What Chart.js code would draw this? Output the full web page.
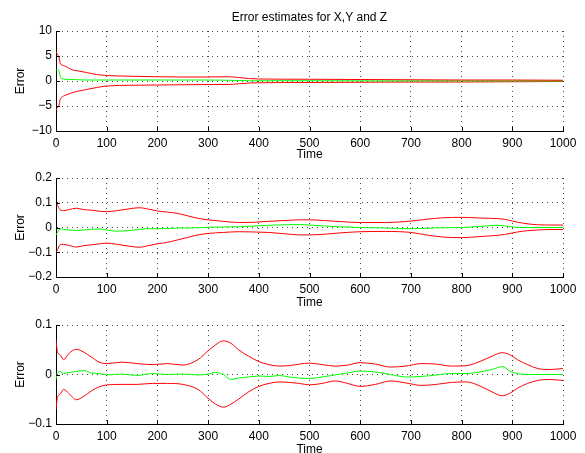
<!DOCTYPE html>
<html>
<head>
<meta charset="utf-8">
<script src="https://cdn.jsdelivr.net/npm/chart.js@4/dist/chart.umd.min.js"></script>
<style>
  html, body { margin: 0; padding: 0; background: #fff; overflow: hidden; width: 585px; height: 453px; }
  #wrap { position: relative; width: 585px; height: 453px; }
  canvas { position: absolute; left: 0; }
</style>
</head>
<body>
<div id="wrap">
  <canvas id="c1" width="585" height="170" style="top:0px"></canvas>
  <canvas id="c2" width="585" height="170" style="top:160px"></canvas>
  <canvas id="c3" width="585" height="150" style="top:310px"></canvas>
</div>
<script>
// ---------- Data ----------
const chartTitle = 'Error estimates for X,Y and Z';
const xAxisTitle = 'Time';
const yAxisTitle = 'Error';

const timeTicks = [0, 100, 200, 300, 400, 500, 600, 700, 800, 900, 1000];
const timeTickLabels = ['0', '100', '200', '300', '400', '500', '600', '700', '800', '900', '1000'];

const xErrTicks = [-10, -5, 0, 5, 10];
const xErrTickLabels = ['\u221210', '\u22125', '0', '5', '10'];
const yErrTicks = [-0.2, -0.1, 0, 0.1, 0.2];
const yErrTickLabels = ['\u22120.2', '\u22120.1', '0', '0.1', '0.2'];
const zErrTicks = [-0.1, 0, 0.1];
const zErrTickLabels = ['\u22120.1', '0', '0.1'];

// X estimate
const tX = [0, 3, 6, 8, 10, 15, 20, 30, 45, 60, 80, 100, 150, 200, 250, 300, 340, 360, 380, 400, 500, 600, 700, 800, 900, 1000];
const xUpper = [5.9, 5.3, 4.8, 3.6, 3.3, 3.1, 2.9, 2.3, 2.0, 1.7, 1.3, 1.1, 0.95, 0.85, 0.8, 0.8, 0.85, 0.7, 0.5, 0.4, 0.35, 0.3, 0.25, 0.2, 0.2, 0.15];
const xMean  = [2.2, 2.2, 2.1, 1.0, 0.5, 0.4, 0.35, 0.3, 0.25, 0.2, 0.2, 0.2, 0.2, 0.2, 0.2, 0.2, 0.15, 0.1, 0.05, 0.05, 0.05, 0.03, 0.03, 0.02, 0.02, 0.0];
const xLower = [-5.8, -5.2, -4.8, -3.8, -3.4, -3.0, -2.8, -2.4, -2.0, -1.7, -1.3, -1.0, -0.85, -0.8, -0.75, -0.7, -0.7, -0.55, -0.4, -0.35, -0.3, -0.25, -0.2, -0.2, -0.15, -0.1];

// Y estimate
const tY = [0, 3, 8, 15, 25, 40, 55, 70, 85, 100, 120, 140, 165, 180, 200, 220, 240, 260, 280, 300, 330, 360, 390, 420, 450, 480, 500, 530, 560, 600, 650, 700, 730, 760, 800, 840, 870, 885, 900, 920, 950, 980, 1000];
const yUpper = [0.1, 0.09, 0.072, 0.068, 0.072, 0.078, 0.072, 0.07, 0.066, 0.064, 0.068, 0.074, 0.08, 0.075, 0.067, 0.062, 0.057, 0.047, 0.037, 0.031, 0.025, 0.02, 0.021, 0.025, 0.028, 0.031, 0.031, 0.028, 0.024, 0.02, 0.02, 0.026, 0.033, 0.039, 0.041, 0.038, 0.036, 0.033, 0.026, 0.018, 0.011, 0.01, 0.01];
const yMean  = [-0.03, -0.02, -0.005, -0.008, -0.01, -0.012, -0.01, -0.007, -0.006, -0.01, -0.015, -0.013, -0.008, -0.005, -0.005, -0.004, -0.002, -0.002, -0.001, 0.001, 0.002, 0.003, 0.006, 0.009, 0.011, 0.012, 0.01, 0.006, 0.003, 0.0, -0.002, -0.005, -0.003, -0.001, 0.0, 0.005, 0.009, 0.007, 0.002, 0.0, 0.0, 0.0, 0.0];
const yLower = [-0.1, -0.09, -0.07, -0.068, -0.072, -0.079, -0.073, -0.07, -0.066, -0.063, -0.068, -0.074, -0.08, -0.074, -0.066, -0.06, -0.05, -0.04, -0.03, -0.024, -0.02, -0.017, -0.018, -0.02, -0.025, -0.03, -0.03, -0.027, -0.022, -0.017, -0.016, -0.02, -0.03, -0.038, -0.041, -0.036, -0.032, -0.028, -0.022, -0.015, -0.01, -0.008, -0.008];

// Z estimate
const tZ = [0, 3, 8, 15, 25, 40, 55, 70, 85, 100, 130, 160, 190, 220, 250, 280, 300, 315, 330, 345, 360, 380, 400, 420, 440, 460, 480, 500, 525, 550, 575, 600, 630, 660, 690, 720, 750, 780, 810, 840, 860, 880, 895, 910, 930, 950, 970, 1000];
const zUpper = [0.07, 0.045, 0.04, 0.03, 0.042, 0.051, 0.045, 0.035, 0.025, 0.022, 0.025, 0.022, 0.02, 0.022, 0.019, 0.03, 0.048, 0.06, 0.068, 0.063, 0.05, 0.037, 0.026, 0.02, 0.017, 0.018, 0.021, 0.023, 0.02, 0.017, 0.019, 0.024, 0.021, 0.015, 0.017, 0.022, 0.021, 0.017, 0.018, 0.028, 0.037, 0.044, 0.04, 0.03, 0.02, 0.012, 0.01, 0.012];
const zMean  = [-0.01, 0.004, 0.006, 0.002, 0.004, 0.006, 0.008, 0.003, 0.002, -0.001, 0.001, -0.002, 0.002, 0.0, 0.001, -0.001, 0.001, 0.004, 0.0, -0.01, -0.007, -0.005, -0.003, -0.004, -0.002, -0.005, -0.007, -0.008, -0.005, -0.001, 0.003, 0.007, 0.005, 0.0, -0.005, -0.004, -0.001, 0.002, 0.002, 0.006, 0.01, 0.016, 0.007, 0.002, 0.0, 0.0, 0.0, 0.0];
const zLower = [-0.07, -0.045, -0.04, -0.03, -0.038, -0.051, -0.044, -0.033, -0.025, -0.021, -0.02, -0.02, -0.018, -0.018, -0.02, -0.03, -0.048, -0.06, -0.066, -0.06, -0.05, -0.035, -0.024, -0.018, -0.015, -0.016, -0.018, -0.021, -0.018, -0.013, -0.018, -0.024, -0.02, -0.013, -0.017, -0.022, -0.02, -0.016, -0.015, -0.025, -0.035, -0.043, -0.038, -0.028, -0.018, -0.012, -0.01, -0.012];

// ---------- Chart building ----------
const FONT = 'Liberation Sans, Arial, Helvetica, sans-serif';
const RED = '#ff0000';
const GREEN = '#00ff00';

const inwardTicks = {
  id: 'inwardTicks',
  afterDraw(chart) {
    const ctx = chart.ctx;
    const a = chart.chartArea;
    const xs = chart.scales.x, ys = chart.scales.y;
    ctx.save();
    ctx.strokeStyle = '#000';
    ctx.lineWidth = 1;
    ctx.beginPath();
    xs.ticks.forEach(t => {
      const px = Math.round(xs.getPixelForValue(t.value)) + 0.5;
      ctx.moveTo(px, a.bottom);
      ctx.lineTo(px, a.bottom - 4);
    });
    ys.ticks.forEach(t => {
      const py = Math.round(ys.getPixelForValue(t.value)) + 0.5;
      ctx.moveTo(a.left, py);
      ctx.lineTo(a.left + 4, py);
    });
    ctx.stroke();
    ctx.restore();
  }
};

function pts(t, v) { return t.map((x, i) => ({ x: x, y: v[i] })); }

function makeChart(id, t, upper, mean, lower, yTicks, yLabels, cfg) {
  const ds = (data, color) => ({
    data: pts(t, data), borderColor: color, borderWidth: 1, pointRadius: 0,
    cubicInterpolationMode: 'monotone', fill: false
  });
  return new Chart(document.getElementById(id), {
    type: 'line',
    data: { datasets: [ds(upper, RED), ds(mean, GREEN), ds(lower, RED)] },
    options: {
      responsive: false, animation: false, devicePixelRatio: 1,
      layout: { padding: { top: cfg.padTop, left: 0, right: 22, bottom: 0 } },
      plugins: {
        legend: { display: false }, tooltip: { enabled: false },
        title: cfg.title ? {
          display: true, text: cfg.title, fullSize: false, color: '#000',
          font: { family: FONT, size: 12, weight: 'normal' },
          padding: { top: 10, bottom: 6.6 }
        } : { display: false }
      },
      scales: {
        x: {
          type: 'linear', min: 0, max: 1000,
          afterBuildTicks: s => { s.ticks = timeTicks.map(v => ({ value: v })); },
          afterFit: s => { s.height = cfg.xAxisH; },
          ticks: { color: '#000', font: { family: FONT, size: 12 }, padding: 5, maxRotation: 0, autoSkip: false,
                   callback: (v, i) => timeTickLabels[i] },
          grid: { color: '#444', lineWidth: 1, drawTicks: false },
          border: { display: true, color: '#000', width: 1, dash: [1, 4] },
          title: { display: true, text: xAxisTitle, color: '#000', font: { family: FONT, size: 12 },
                   padding: { top: 0, bottom: cfg.xTitlePad } }
        },
        y: {
          type: 'linear', min: yTicks[0], max: yTicks[yTicks.length - 1],
          afterBuildTicks: s => { s.ticks = yTicks.map(v => ({ value: v })); },
          afterFit: s => { s.width = 56; },
          ticks: { color: '#000', font: { family: FONT, size: 12 }, padding: 4, autoSkip: false,
                   callback: (v, i) => yLabels[i] },
          grid: { color: '#444', lineWidth: 1, drawTicks: false },
          border: { display: true, color: '#000', width: 1, dash: [1, 4] },
          title: { display: true, text: yAxisTitle, color: '#000', font: { family: FONT, size: 12 },
                   padding: { top: 13, bottom: 0 } }
        }
      }
    },
    plugins: [inwardTicks]
  });
}

makeChart('c1', tX, xUpper, xMean, xLower, xErrTicks, xErrTickLabels,
  { title: chartTitle, padTop: 0, xAxisH: 39, xTitlePad: 8.3 });
makeChart('c2', tY, yUpper, yMean, yLower, yErrTicks, yErrTickLabels,
  { padTop: 18, xAxisH: 53, xTitlePad: 20.3 });
makeChart('c3', tZ, zUpper, zMean, zLower, zErrTicks, zErrTickLabels,
  { padTop: 15, xAxisH: 36, xTitlePad: 3 });
</script>
</body>
</html>
